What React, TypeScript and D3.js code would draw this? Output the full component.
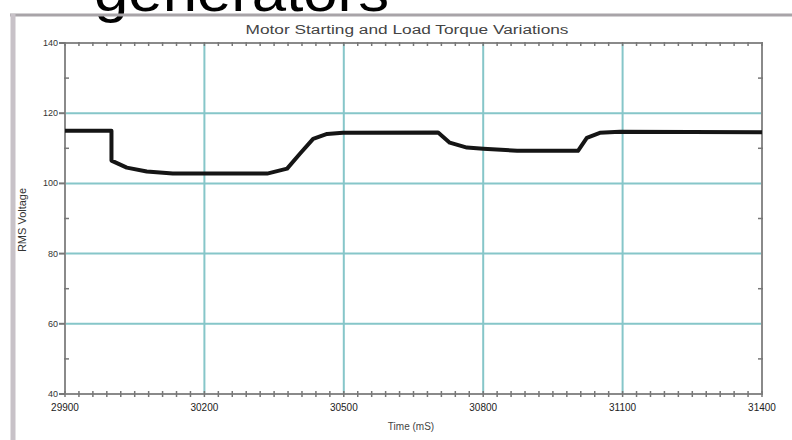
import React from "react";
import * as d3 from "d3";

const times = [29900, 30000, 30000, 30033, 30076, 30132, 30335, 30378, 30406, 30434, 30464, 30498, 30703, 30728, 30765, 30800, 30873, 31004, 31023, 31051, 31094, 31400];
const voltages = [115, 115, 106.5, 104.5, 103.4, 102.8, 102.8, 104.2, 108.5, 112.7, 114.1, 114.4, 114.5, 111.6, 110.2, 109.9, 109.3, 109.3, 113, 114.4, 114.7, 114.6];
const xTicks = [29900, 30200, 30500, 30800, 31100, 31400];
const yTicks = [40, 60, 80, 100, 120, 140];
const title = "Motor Starting and Load Torque Variations";
const xLabel = "Time (mS)";
const yLabel = "RMS Voltage";
const heading = "generators";

export default function App() {
  const W = 792, H = 440;
  const left = 65, right = 762, top = 43, bottom = 394;
  const x = d3.scaleLinear().domain([29900, 31400]).range([left, right]);
  const y = d3.scaleLinear().domain([40, 140]).range([bottom, top]);
  const pts = times.map((t, i) => [t, voltages[i]] as [number, number]);
  const line = d3.line<[number, number]>().x(d => x(d[0])).y(d => y(d[1])).curve(d3.curveLinear);
  const grid = "#86c6c9";
  const axis = "#8a8a8a";
  const xMinor = d3.range(29900, 31400 + 1, 30);
  const yMinor = d3.range(50, 140, 20);
  return (
    <svg width={W} height={H} style={{ position: "absolute", left: 0, top: 0, background: "#fff" }} fontFamily="Liberation Sans, Arial, sans-serif">
      <rect x={0} y={0} width={W} height={H} fill="#fff" />
      <text x={94} y={11} fontSize={56} fill="#000" textLength={295} lengthAdjust="spacingAndGlyphs">{heading}</text>
      {/* frame */}
      <line x1={10} x2={W} y1={15} y2={15} stroke="#a8a4a8" strokeWidth={3} />
      <line x1={13} x2={13} y1={14} y2={H} stroke="#c8c2c8" strokeWidth={5} />
      <text x={407} y={34} fontSize={12} textAnchor="middle" fill="#444" textLength={323} lengthAdjust="spacingAndGlyphs">{title}</text>
      {/* grid */}
      {yTicks.filter(v => v > 40 && v < 140).map(v => (
        <line key={"gy" + v} x1={left} x2={right} y1={y(v)} y2={y(v)} stroke={grid} strokeWidth={2} />
      ))}
      {xTicks.filter(v => v > 29900 && v < 31400).map(v => (
        <line key={"gx" + v} x1={x(v)} x2={x(v)} y1={top} y2={bottom} stroke={grid} strokeWidth={2} />
      ))}
      {/* axes */}
      <rect x={left} y={top} width={right - left} height={bottom - top} fill="none" stroke={axis} strokeWidth={2} />
      {xMinor.map(v => (
        <g key={"mx" + v}>
          <line x1={x(v)} x2={x(v)} y1={top - 1} y2={top + 3} stroke="#777" strokeWidth={1.5} />
          <line x1={x(v)} x2={x(v)} y1={bottom - 3} y2={bottom + 3} stroke="#777" strokeWidth={1.5} />
        </g>
      ))}
      {yMinor.map(v => (
        <g key={"my" + v}>
          <line x1={left - 1} x2={left + 4} y1={y(v)} y2={y(v)} stroke="#777" strokeWidth={1.5} />
          <line x1={right - 4} x2={right + 1} y1={y(v)} y2={y(v)} stroke="#777" strokeWidth={1.5} />
        </g>
      ))}
      {yTicks.map(v => (
        <g key={"ty" + v}>
          <line x1={left - 6} x2={left} y1={y(v)} y2={y(v)} stroke="#777" strokeWidth={2} />
          <text x={left - 7} y={y(v) + 3} fontSize={9} textAnchor="end" fill="#333">{v}</text>
        </g>
      ))}
      {xTicks.map(v => (
        <text key={"tx" + v} x={x(v)} y={411} fontSize={10} textAnchor="middle" fill="#222">{v}</text>
      ))}
      <text x={411} y={430} fontSize={10} textAnchor="middle" fill="#444">{xLabel}</text>
      <text transform="translate(26,220) rotate(-90)" fontSize={11} textAnchor="middle" fill="#333">{yLabel}</text>
      {/* series */}
      <path d={line(pts) || ""} fill="none" stroke="#151515" strokeWidth={4} strokeLinejoin="round" />
    </svg>
  );
}
